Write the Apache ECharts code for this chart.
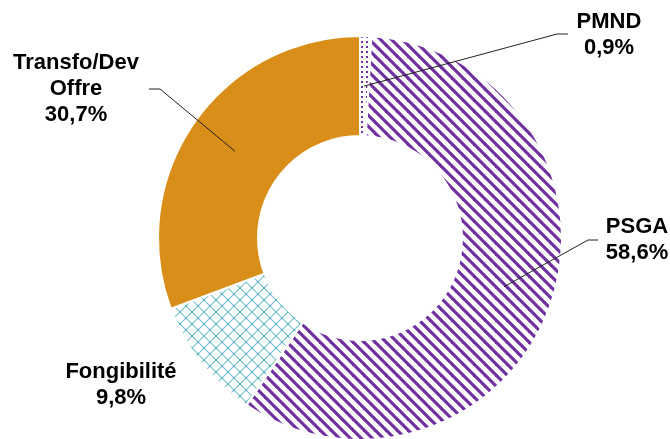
<!DOCTYPE html>
<html>
<head>
<meta charset="utf-8">
<script src="https://cdn.jsdelivr.net/npm/echarts@6/dist/echarts.min.js"></script>
<style>
html,body{margin:0;padding:0;background:#fff;}
#c{width:670px;height:439px;}
</style>
</head>
<body>
<div id="c"></div>
<script>
// ---- Data ----
const categories = ['PMND', 'PSGA', 'Fongibilité', 'Transfo/Dev Offre'];
const values = [0.9, 58.6, 9.8, 30.7];

// ---- Layout (not data) ----
const CX = 360, CY = 238, R0 = 102, R1 = 202;
const labelCenters = [[609, 35], [637, 240], [121, 385], [76, 89]];
const bends = [[557, 34], [588, 240], null, [160, 89]];
const ends = [[568, 34], [598, 240], null, [149, 89]];

function stripeTile() {
  const s = 11, c = document.createElement('canvas');
  c.width = s; c.height = s;
  const g = c.getContext('2d');
  g.fillStyle = '#fff'; g.fillRect(0, 0, s, s);
  g.strokeStyle = '#7030A0'; g.lineWidth = 3.2;
  for (const k of [-s, 0, s]) {
    g.beginPath(); g.moveTo(k - 2, -2); g.lineTo(k + s + 2, s + 2); g.stroke();
  }
  return c;
}
function dotTile() {
  const s = 5, c = document.createElement('canvas');
  c.width = s; c.height = s;
  const g = c.getContext('2d');
  g.fillStyle = '#fff'; g.fillRect(0, 0, s, s);
  g.fillStyle = '#7030A0'; g.fillRect(1, 1, 2, 2);
  return c;
}
function latticeTile() {
  const s = 12, c = document.createElement('canvas');
  c.width = s; c.height = s;
  const g = c.getContext('2d');
  g.fillStyle = '#fff'; g.fillRect(0, 0, s, s);
  g.strokeStyle = '#72C2CA'; g.lineWidth = 1.1;
  g.beginPath(); g.moveTo(0, 0); g.lineTo(s, s); g.stroke();
  g.beginPath(); g.moveTo(s, 0); g.lineTo(0, s); g.stroke();
  g.fillStyle = '#5DB3BD';
  g.fillRect(s / 2 - 1, s / 2 - 1, 2, 2);
  g.fillRect(0, 0, 1, 1); g.fillRect(s - 1, 0, 1, 1); g.fillRect(0, s - 1, 1, 1); g.fillRect(s - 1, s - 1, 1, 1);
  return c;
}

const fills = [
  { image: dotTile(), repeat: 'repeat' },
  { image: stripeTile(), repeat: 'repeat' },
  { image: latticeTile(), repeat: 'repeat' },
  '#DA8E1A'
];

const total = values.reduce((a, b) => a + b, 0);
let acc = 0;
const Rm = (R0 + R1) / 2;
const anchors = values.map(v => {
  const a = (acc + v / 2) / total * 2 * Math.PI;
  acc += v;
  return [CX + Rm * Math.sin(a), CY - Rm * Math.cos(a)];
});

const base = {
  type: 'pie',
  center: [CX, CY],
  radius: [R0, R1],
  startAngle: 90,
  clockwise: true,
  avoidLabelOverlap: false,
  emphasis: { disabled: true },
  silent: true
};

const chart = echarts.init(document.getElementById('c'));
chart.setOption({
  animation: false,
  series: [
    Object.assign({}, base, {
      z: 2,
      itemStyle: { borderColor: '#fff', borderWidth: 2 },
      label: { show: false },
      labelLine: { show: false },
      data: categories.map((n, i) => ({ name: n, value: values[i], itemStyle: { color: fills[i] } }))
    }),
    Object.assign({}, base, {
      z: 5,
      itemStyle: { color: 'rgba(0,0,0,0)', borderWidth: 0 },
      label: {
        show: true,
        color: '#000',
        fontFamily: '"Liberation Sans", Arial, sans-serif',
        fontWeight: 'bold',
        fontSize: 22,
        lineHeight: 26,
        align: 'center',
        formatter: p => p.name.replace(' ', '\n') + '\n' + p.value.toFixed(1).replace('.', ',') + '%'
      },
      labelLine: { show: true, lineStyle: { color: '#222', width: 1 } },
      labelLayout: function (params) {
        const i = params.dataIndex;
        const out = {
          x: labelCenters[i][0], y: labelCenters[i][1],
          align: 'center', verticalAlign: 'middle'
        };
        if (bends[i]) out.labelLinePoints = [anchors[i], bends[i], ends[i]];
        return out;
      },
      data: categories.map((n, i) => ({
        name: n,
        value: values[i],
        labelLine: { show: bends[i] !== null }
      }))
    })
  ]
});
</script>
</body>
</html>
